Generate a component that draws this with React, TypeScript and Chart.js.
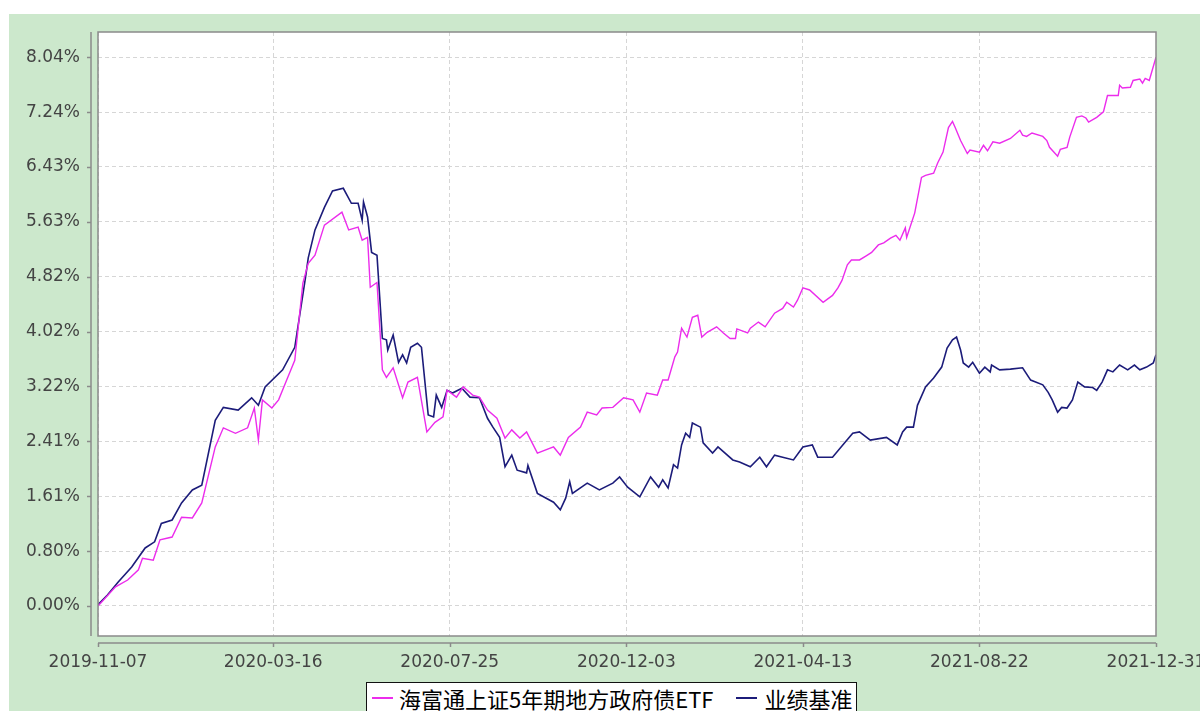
import React, { useEffect, useRef } from 'react';
import { Chart, registerables } from 'chart.js';

Chart.register(...registerables);

const seriesNames = ['海富通上证5年期地方政府债ETF', '业绩基准'];
const xTickLabels = ['2019-11-07', '2020-03-16', '2020-07-25', '2020-12-03', '2021-04-13', '2021-08-22', '2021-12-31'];
const yTickValues = [0, 0.804, 1.608, 2.412, 3.216, 4.02, 4.824, 5.628, 6.432, 7.236, 8.04];
const yTickLabels = ['0.00%', '0.80%', '1.61%', '2.41%', '3.22%', '4.02%', '4.82%', '5.63%', '6.43%', '7.24%', '8.04%'];

// [days since 2019-11-07, cumulative return %]
const etfSeries: [number, number][] = [
  [0, 0], [13, 0.28], [22, 0.38], [30, 0.53], [33, 0.7], [41, 0.67], [46, 0.97], [55, 1.01], [62, 1.3], [70, 1.29],
  [77, 1.51], [87, 2.33], [93, 2.61], [102, 2.53], [111, 2.61], [116, 2.9], [119, 2.43], [122, 3.02], [129, 2.9], [134, 3.02],
  [140, 3.31], [146, 3.6], [152, 4.73], [156, 5.02], [161, 5.14], [168, 5.58], [181, 5.77], [186, 5.51], [193, 5.55], [196, 5.36],
  [200, 5.4], [202, 4.67], [207, 4.74], [211, 3.46], [214, 3.35], [219, 3.49], [226, 3.05], [230, 3.28], [237, 3.35], [244, 2.55],
  [250, 2.69], [256, 2.77], [259, 3.16], [266, 3.06], [271, 3.21], [278, 3.09], [283, 3.06], [289, 2.87], [296, 2.75], [302, 2.46],
  [307, 2.58], [313, 2.46], [318, 2.55], [326, 2.24], [338, 2.33], [343, 2.21], [349, 2.47], [358, 2.62], [363, 2.84], [370, 2.8],
  [374, 2.9], [382, 2.91], [390, 3.05], [397, 3.02], [402, 2.84], [407, 3.12], [415, 3.09], [419, 3.31], [423, 3.31], [428, 3.65],
  [430, 3.72], [433, 4.07], [437, 3.94], [441, 4.23], [445, 4.26], [448, 3.94], [452, 4.01], [459, 4.09], [464, 4.0], [469, 3.92],
  [473, 3.92], [474, 4.06], [482, 4.0], [484, 4.07], [490, 4.16], [495, 4.09], [502, 4.29], [508, 4.36], [511, 4.45], [516, 4.38],
  [519, 4.48], [523, 4.66], [528, 4.63], [538, 4.45], [545, 4.55], [549, 4.66], [552, 4.77], [556, 5.0], [559, 5.07], [565, 5.07],
  [570, 5.13], [574, 5.18], [579, 5.29], [583, 5.32], [588, 5.39], [592, 5.43], [595, 5.36], [599, 5.54], [600, 5.4], [606, 5.76],
  [611, 6.28], [614, 6.31], [620, 6.34], [623, 6.49], [627, 6.65], [631, 7.01], [634, 7.1], [636, 7.01], [640, 6.82], [645, 6.63],
  [647, 6.68], [654, 6.65], [657, 6.75], [660, 6.67], [664, 6.8], [669, 6.78], [677, 6.85], [684, 6.97], [686, 6.9], [689, 6.88],
  [693, 6.93], [701, 6.88], [704, 6.82], [706, 6.72], [712, 6.59], [714, 6.69], [719, 6.72], [721, 6.87], [726, 7.16], [730, 7.18],
  [733, 7.15], [735, 7.09], [741, 7.16], [746, 7.24], [749, 7.48], [757, 7.48], [758, 7.63], [760, 7.59], [766, 7.6], [768, 7.7],
  [773, 7.72], [775, 7.66], [777, 7.73], [780, 7.7], [785, 8.04],
];

const benchmarkSeries: [number, number][] = [
  [0, 0.02], [7, 0.16], [15, 0.35], [25, 0.57], [35, 0.85], [42, 0.94], [47, 1.21], [55, 1.26], [62, 1.51], [70, 1.7],
  [77, 1.77], [87, 2.72], [93, 2.91], [104, 2.87], [114, 3.05], [119, 2.94], [124, 3.21], [137, 3.46], [146, 3.79], [154, 4.82],
  [156, 5.1], [161, 5.51], [168, 5.84], [174, 6.08], [182, 6.12], [188, 5.9], [193, 5.9], [196, 5.65], [197, 5.92], [200, 5.7],
  [203, 5.18], [207, 5.14], [209, 4.53], [211, 3.92], [214, 3.9], [215, 3.75], [219, 3.97], [223, 3.57], [226, 3.68], [229, 3.56],
  [232, 3.79], [237, 3.85], [240, 3.79], [245, 2.8], [249, 2.77], [251, 3.09], [255, 2.91], [259, 3.16], [263, 3.12], [270, 3.19],
  [276, 3.06], [283, 3.05], [289, 2.75], [293, 2.62], [298, 2.47], [302, 2.04], [307, 2.21], [311, 1.99], [318, 1.95], [319, 2.06],
  [326, 1.65], [338, 1.52], [343, 1.41], [347, 1.58], [350, 1.82], [352, 1.65], [363, 1.8], [372, 1.7], [382, 1.8], [387, 1.89],
  [393, 1.74], [402, 1.6], [410, 1.89], [416, 1.74], [419, 1.85], [423, 1.73], [427, 2.07], [430, 2.02], [433, 2.36], [436, 2.53],
  [439, 2.47], [441, 2.68], [447, 2.62], [449, 2.39], [456, 2.24], [460, 2.33], [471, 2.14], [476, 2.11], [484, 2.04], [491, 2.18],
  [496, 2.04], [502, 2.21], [508, 2.18], [516, 2.14], [523, 2.33], [530, 2.36], [534, 2.18], [545, 2.18], [554, 2.39], [560, 2.53],
  [565, 2.55], [573, 2.43], [585, 2.47], [593, 2.36], [597, 2.55], [600, 2.62], [605, 2.62], [608, 2.94], [614, 3.21], [620, 3.34],
  [626, 3.5], [630, 3.78], [634, 3.9], [637, 3.94], [640, 3.75], [642, 3.56], [646, 3.5], [649, 3.57], [654, 3.41], [658, 3.5],
  [662, 3.43], [663, 3.53], [669, 3.46], [677, 3.47], [686, 3.49], [692, 3.31], [701, 3.24], [705, 3.13], [708, 3.02], [712, 2.84],
  [715, 2.91], [719, 2.9], [723, 3.02], [727, 3.28], [732, 3.21], [738, 3.2], [741, 3.16], [745, 3.28], [749, 3.46], [753, 3.43],
  [758, 3.53], [764, 3.46], [769, 3.53], [773, 3.46], [778, 3.5], [783, 3.56], [785, 3.68],
];

const seriesColors = ['#ec2cec', '#1c1c7a'];

const dayOf = (s: string) => Math.round((Date.parse(s) - Date.parse(xTickLabels[0])) / 86400000);
const xTickDays = xTickLabels.map(dayOf);

const framePlugin = {
  id: 'frame',
  beforeDraw(chart: any) {
    const { ctx, chartArea: a } = chart;
    ctx.save();
    ctx.fillStyle = '#ffffff';
    ctx.fillRect(a.left, a.top, a.right - a.left, a.bottom - a.top);
    ctx.restore();
  },
  afterDatasetsDraw(chart: any) {
    const { ctx, chartArea: a, scales } = chart;
    ctx.save();
    ctx.strokeStyle = '#8a8a8a';
    ctx.lineWidth = 1.5;
    ctx.strokeRect(a.left, a.top, a.right - a.left, a.bottom - a.top);
    const ax = a.left - 7;
    ctx.beginPath();
    ctx.moveTo(ax, a.top);
    ctx.lineTo(ax, a.bottom);
    yTickValues.forEach((v) => {
      const y = Math.round(scales.y.getPixelForValue(v)) + 0.5;
      ctx.moveTo(ax - 4, y);
      ctx.lineTo(ax, y);
    });
    const ay = a.bottom + 7;
    ctx.moveTo(a.left, ay);
    ctx.lineTo(a.right, ay);
    xTickDays.forEach((d) => {
      const x = Math.round(scales.x.getPixelForValue(d)) + 0.5;
      ctx.moveTo(x, ay);
      ctx.lineTo(x, ay + 4);
    });
    ctx.stroke();
    ctx.restore();
  },
};

export default function App() {
  const canvasRef = useRef<HTMLCanvasElement | null>(null);

  useEffect(() => {
    if (!canvasRef.current) return;
    const tickFont = { family: '"DejaVu Sans", sans-serif', size: 17 };
    const zeroPad = (s: any) => {
      s.paddingTop = 0;
      s.paddingBottom = 0;
      s.paddingLeft = 0;
      s.paddingRight = 0;
    };
    const chart = new Chart(canvasRef.current, {
      type: 'line',
      data: {
        datasets: [
          {
            label: seriesNames[0],
            data: etfSeries.map(([x, y]) => ({ x, y })),
            borderColor: seriesColors[0],
            borderWidth: 1.4,
            pointRadius: 0,
            tension: 0,
            fill: false,
          },
          {
            label: seriesNames[1],
            data: benchmarkSeries.map(([x, y]) => ({ x, y })),
            borderColor: seriesColors[1],
            borderWidth: 1.6,
            pointRadius: 0,
            tension: 0,
            fill: false,
          },
        ],
      },
      options: {
        animation: false,
        responsive: false,
        maintainAspectRatio: false,
        layout: { padding: { left: 0, top: 18, right: 103, bottom: 0 } },
        plugins: { legend: { display: false }, tooltip: { enabled: false } },
        scales: {
          x: {
            type: 'linear',
            min: xTickDays[0],
            max: xTickDays[xTickDays.length - 1],
            afterBuildTicks: (s: any) => {
              s.ticks = xTickDays.map((v) => ({ value: v }));
            },
            afterFit: (s: any) => {
              s.height = 75;
              zeroPad(s);
            },
            ticks: {
              autoSkip: false,
              maxRotation: 0,
              padding: 16,
              color: '#444444',
              font: tickFont,
              callback: (_v: any, i: number) => xTickLabels[i],
            },
            grid: { color: '#d6d6d6', drawTicks: false, lineWidth: 1 },
            border: { display: false, dash: [4, 3] },
          },
          y: {
            type: 'linear',
            min: -0.44,
            max: 8.41,
            afterBuildTicks: (s: any) => {
              s.ticks = yTickValues.map((v) => ({ value: v }));
            },
            afterFit: (s: any) => {
              s.width = 89;
              zeroPad(s);
            },
            ticks: {
              autoSkip: false,
              padding: 18,
              color: '#444444',
              font: tickFont,
              callback: (_v: any, i: number) => yTickLabels[i],
            },
            grid: { color: '#d6d6d6', drawTicks: false, lineWidth: 1 },
            border: { display: false, dash: [4, 3] },
          },
        },
      },
      plugins: [framePlugin],
    });
    return () => chart.destroy();
  }, []);

  const lineSwatch = (color: string) => (
    <span style={{ display: 'inline-block', width: 21, height: 2, background: color, flex: '0 0 auto' }} />
  );

  return (
    <div
      style={{
        position: 'fixed',
        left: 0,
        top: 0,
        width: 1200,
        height: 711,
        overflow: 'hidden',
        background: '#ffffff',
      }}
    >
      <div style={{ position: 'absolute', left: 9, top: 14, width: 1191, height: 697, background: '#cce8cc' }} />
      <canvas
        ref={canvasRef}
        width={1250}
        height={697}
        style={{ position: 'absolute', left: 9, top: 14, width: 1250, height: 697 }}
      />
      <div
        style={{
          position: 'absolute',
          left: 366,
          top: 682,
          width: 491,
          height: 34,
          border: '1.5px solid #111',
          background: '#ffffff',
          display: 'flex',
          alignItems: 'flex-start',
          paddingTop: 4,
          boxSizing: 'border-box',
          fontFamily: '"Noto Sans CJK SC", sans-serif',
          fontSize: 22,
          lineHeight: '22px',
          color: '#000',
          whiteSpace: 'nowrap',
        }}
      >
        <span style={{ display: 'flex', alignItems: 'center', height: 22, marginLeft: 5 }}>
          {lineSwatch(seriesColors[0])}
          <span style={{ marginLeft: 6 }}>{seriesNames[0]}</span>
        </span>
        <span style={{ display: 'flex', alignItems: 'center', height: 22, marginLeft: 22 }}>
          {lineSwatch(seriesColors[1])}
          <span style={{ marginLeft: 8 }}>{seriesNames[1]}</span>
        </span>
      </div>
    </div>
  );
}
